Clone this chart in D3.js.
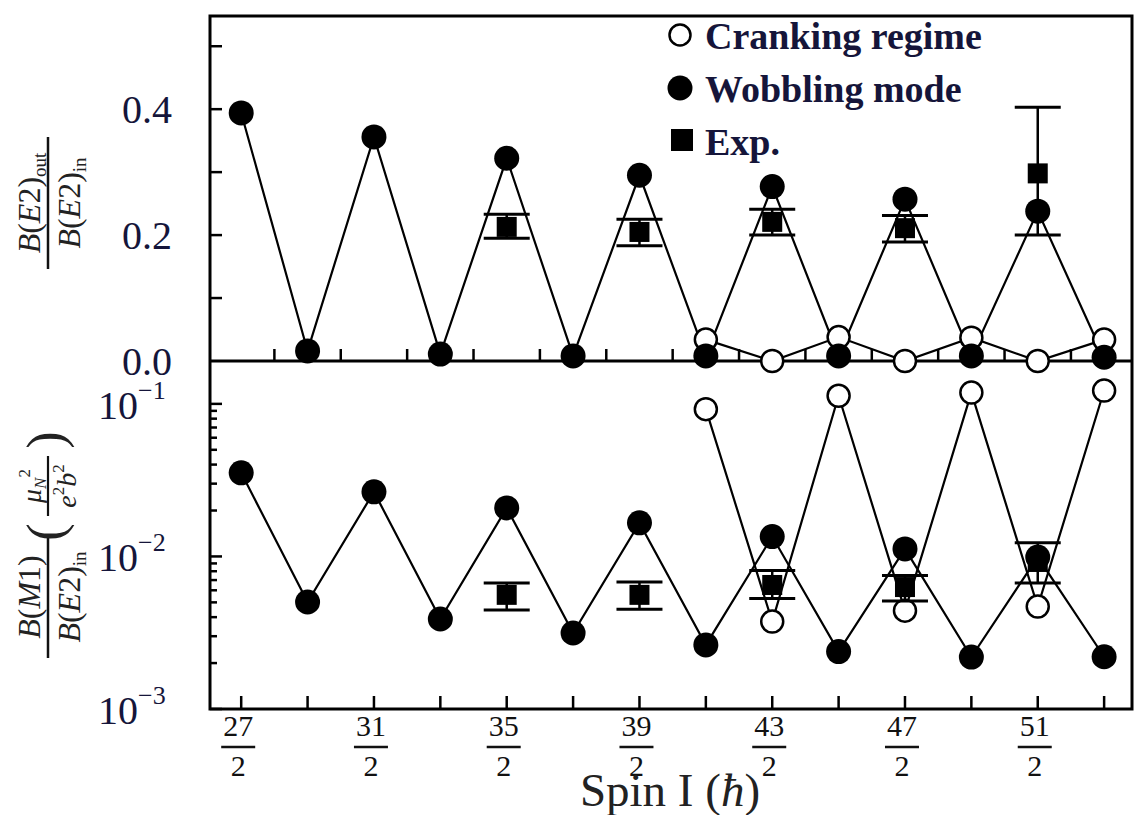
<!DOCTYPE html>
<html>
<head>
<meta charset="utf-8">
<script src="https://cdn.jsdelivr.net/npm/d3@7"></script>
<style>
	body { margin: 0; background: #fff; }
	svg text { font-family: "Liberation Serif", "DejaVu Serif", serif; }
</style>
</head>
<body>
<div id="chart"></div>
<script>
// spin values are stored as numerators of I/2
const spins        = [27, 29, 31, 33, 35, 37, 39, 41, 43, 45, 47, 49, 51, 53];
const wobbleRatio  = [0.394, 0.016, 0.356, 0.011, 0.322, 0.008, 0.295, 0.008, 0.277, 0.008, 0.257, 0.008, 0.238, 0.006];
const wobbleM1     = [0.0353, 0.00503, 0.0265, 0.00389, 0.0208, 0.00315, 0.0166, 0.00263, 0.0135, 0.00238, 0.0112, 0.00219, 0.0099, 0.0022];

const crankSpins   = [41, 43, 45, 47, 49, 51, 53];
const crankRatio   = [0.034, 0.0, 0.038, 0.0, 0.037, 0.0, 0.034];
const crankM1      = [0.0923, 0.00374, 0.113, 0.00441, 0.1186, 0.00469, 0.1223];

const expSpins     = [35, 39, 43, 47, 51];
const expRatio     = [0.213, 0.205, 0.221, 0.211, 0.298];
const expRatioLo   = [0.195, 0.183, 0.200, 0.189, 0.200];
const expRatioHi   = [0.233, 0.225, 0.241, 0.231, 0.403];
const expM1        = [0.0056, 0.0056, 0.0065, 0.0063, 0.0092];
const expM1Lo      = [0.00446, 0.0045, 0.0053, 0.0051, 0.0067];
const expM1Hi      = [0.0067, 0.0068, 0.0081, 0.0075, 0.0123];

const xLabelSpins  = [27, 31, 35, 39, 43, 47, 51];
const ratioTicks   = [0.0, 0.2, 0.4];
const ratioMinor   = [0.1, 0.2, 0.3, 0.4, 0.5];
const m1Ticks      = [1e-3, 1e-2, 1e-1];
const m1Exponents  = ['\u22123', '\u22122', '\u22121'];
const legendLabels = ['Cranking regime', 'Wobbling mode', 'Exp.'];

let width   = 1134,
	height  = 815,
	pLeft   = 210,
	pRight  = 1132,
	pTop    = 16,
	pMid    = 361,
	pBottom = 709,
	ink     = '#15153a';

let svg = d3.select('#chart')
	.append('svg')
	.attr('width', width)
	.attr('height', height);

let x = d3.scaleLinear()
	.domain([13.03, 26.92])
	.range([pLeft, pRight]);

let yTop = d3.scaleLinear()
	.domain([0, 0.548])
	.range([pMid, pTop]);

let yBot = d3.scaleLog()
	.domain([1e-3, 0.191])
	.range([pBottom, pMid]);

let xv = function(s) { return x(s / 2); };

// ---- ticks ----
let ticks = svg.append('g').attr('stroke', '#000').attr('stroke-width', 2.5);

ratioMinor.forEach(function(v) {
	ticks.append('line').attr('x1', pLeft).attr('x2', pLeft + 12).attr('y1', yTop(v)).attr('y2', yTop(v));
});

m1Ticks.forEach(function(v, i) {
	ticks.append('line').attr('x1', pLeft).attr('x2', pLeft + 12).attr('y1', yBot(v)).attr('y2', yBot(v));
	if (i < m1Ticks.length - 1) {
		for (let k = 2; k <= 9; k++) {
			ticks.append('line').attr('x1', pLeft).attr('x2', pLeft + 7)
				.attr('y1', yBot(v * k)).attr('y2', yBot(v * k));
		}
	}
});

spins.forEach(function(s) {
	ticks.append('line').attr('x1', xv(s)).attr('x2', xv(s)).attr('y1', pBottom).attr('y2', pBottom - 13);
});

d3.range(14, 27).forEach(function(s) {
	ticks.append('line').attr('x1', x(s)).attr('x2', x(s)).attr('y1', pMid).attr('y2', pMid - 12);
});

// ---- frame ----
svg.append('rect')
	.attr('x', pLeft).attr('y', pTop)
	.attr('width', pRight - pLeft).attr('height', pBottom - pTop)
	.attr('fill', 'none').attr('stroke', '#000').attr('stroke-width', 3);

svg.append('line')
	.attr('x1', pLeft).attr('x2', pRight).attr('y1', pMid).attr('y2', pMid)
	.attr('stroke', '#000').attr('stroke-width', 3);

// ---- series ----
function drawPanel(y, wob, crank, ev, lo, hi) {
	let line = d3.line()
		.x(function(d) { return xv(d[0]); })
		.y(function(d) { return y(d[1]); });

	let crankData = crankSpins.map(function(s, i) { return [s, crank[i]]; });
	let wobData   = spins.map(function(s, i) { return [s, wob[i]]; });

	svg.append('path').datum(crankData)
		.attr('fill', 'none').attr('stroke', '#000').attr('stroke-width', 2.2).attr('d', line);
	svg.append('path').datum(wobData)
		.attr('fill', 'none').attr('stroke', '#000').attr('stroke-width', 2.2).attr('d', line);

	svg.append('g').selectAll('circle').data(crankData).join('circle')
		.attr('cx', function(d) { return xv(d[0]); })
		.attr('cy', function(d) { return y(d[1]); })
		.attr('r', 11)
		.attr('fill', '#fff').attr('stroke', '#000').attr('stroke-width', 2.5);

	svg.append('g').selectAll('circle').data(wobData).join('circle')
		.attr('cx', function(d) { return xv(d[0]); })
		.attr('cy', function(d) { return y(d[1]); })
		.attr('r', 12.5)
		.attr('fill', '#000');

	let eg = svg.append('g').attr('stroke', '#000');
	expSpins.forEach(function(s, i) {
		let cx = xv(s);
		eg.append('line').attr('x1', cx).attr('x2', cx).attr('y1', y(lo[i])).attr('y2', y(hi[i])).attr('stroke-width', 2.5);
		eg.append('line').attr('x1', cx - 23).attr('x2', cx + 23).attr('y1', y(lo[i])).attr('y2', y(lo[i])).attr('stroke-width', 3);
		eg.append('line').attr('x1', cx - 23).attr('x2', cx + 23).attr('y1', y(hi[i])).attr('y2', y(hi[i])).attr('stroke-width', 3);
		eg.append('rect').attr('x', cx - 10).attr('y', y(ev[i]) - 10).attr('width', 20).attr('height', 20)
			.attr('fill', '#000').attr('stroke', 'none');
	});
}

drawPanel(yTop, wobbleRatio, crankRatio, expRatio, expRatioLo, expRatioHi);
drawPanel(yBot, wobbleM1, crankM1, expM1, expM1Lo, expM1Hi);

// ---- tick labels ----
svg.append('g').selectAll('text').data(ratioTicks).join('text')
	.attr('x', 172).attr('y', function(d) { return yTop(d); })
	.attr('dy', '0.35em')
	.attr('text-anchor', 'end')
	.attr('font-size', 40)
	.attr('fill', ink)
	.text(function(d) { return d.toFixed(1); });

m1Ticks.forEach(function(v, i) {
	let t = svg.append('text')
		.attr('x', 98).attr('y', yBot(v) + 15)
		.attr('font-size', 40)
		.attr('fill', ink);
	t.append('tspan').text('10');
	t.append('tspan').attr('font-size', 26).attr('dy', -20).text(m1Exponents[i]);
});

let xl = svg.append('g').attr('fill', '#111');
xLabelSpins.forEach(function(s) {
	let cx = xv(s) - 3;
	xl.append('text').attr('x', cx).attr('y', 736).attr('text-anchor', 'middle').attr('font-size', 30).text(s);
	xl.append('line').attr('x1', cx - 17).attr('x2', cx + 17).attr('y1', 747).attr('y2', 747)
		.attr('stroke', '#111').attr('stroke-width', 2.5);
	xl.append('text').attr('x', cx).attr('y', 776).attr('text-anchor', 'middle').attr('font-size', 30).text('2');
});

let sp = svg.append('text')
	.attr('x', 670).attr('y', 806)
	.attr('text-anchor', 'middle')
	.attr('font-size', 47)
	.attr('fill', '#222');
sp.append('tspan').text('Spin I (');
sp.append('tspan').attr('font-style', 'italic').text('\u0127');
sp.append('tspan').text(')');

// ---- y titles ----
function fracText(g, yy, size, parts) {
	let t = g.append('text').attr('x', 0).attr('y', yy).attr('text-anchor', 'middle')
		.attr('font-size', size).attr('fill', '#222');
	parts.forEach(function(p) {
		let ts = t.append('tspan').text(p.t);
		if (p.i) ts.attr('font-style', 'italic');
		if (p.s) ts.attr('font-size', p.s);
		if (p.dy) ts.attr('dy', p.dy);
	});
	return t;
}

let g1 = svg.append('g').attr('transform', 'translate(48,203) rotate(-90)');
g1.append('line').attr('x1', -66).attr('x2', 66).attr('y1', 0).attr('y2', 0).attr('stroke', '#111').attr('stroke-width', 2.5);
fracText(g1, -8, 32, [{t: 'B', i: 1}, {t: '('}, {t: 'E', i: 1}, {t: '2)'}, {t: 'out', s: 19, dy: 6}]);
fracText(g1, 32, 32, [{t: 'B', i: 1}, {t: '('}, {t: 'E', i: 1}, {t: '2)'}, {t: 'in', s: 19, dy: 6}]);

let g2 = svg.append('g').attr('transform', 'translate(48,597) rotate(-90)');
g2.append('line').attr('x1', -61).attr('x2', 61).attr('y1', 0).attr('y2', 0).attr('stroke', '#111').attr('stroke-width', 2.5);
fracText(g2, -8, 32, [{t: 'B', i: 1}, {t: '('}, {t: 'M', i: 1}, {t: '1)'}]);
fracText(g2, 32, 32, [{t: 'B', i: 1}, {t: '('}, {t: 'E', i: 1}, {t: '2)'}, {t: 'in', s: 19, dy: 6}]);

let g3 = svg.append('g').attr('transform', 'translate(48,486) rotate(-90)');
g3.append('line').attr('x1', -30).attr('x2', 30).attr('y1', 0).attr('y2', 0).attr('stroke', '#111').attr('stroke-width', 2.2);
g3.append('text').attr('x', -46).attr('y', 15).attr('text-anchor', 'middle').attr('font-size', 52).attr('fill', '#222').text('(');
g3.append('text').attr('x', 46).attr('y', 15).attr('text-anchor', 'middle').attr('font-size', 52).attr('fill', '#222').text(')');
fracText(g3, -7, 28, [{t: '\u03bc', i: 1}, {t: 'N', s: 17, dy: 5, i: 1}, {t: '2', s: 17, dy: -16}]);
fracText(g3, 28, 28, [{t: 'e', i: 1}, {t: '2', s: 17, dy: -12}, {t: 'b', i: 1, dy: 12}, {t: '2', s: 17, dy: -12}]);

// ---- legend ----
let lg = svg.append('g');
lg.append('circle').attr('cx', 680).attr('cy', 35).attr('r', 10.5)
	.attr('fill', '#fff').attr('stroke', '#000').attr('stroke-width', 2.5);
lg.append('circle').attr('cx', 680).attr('cy', 88).attr('r', 12.5).attr('fill', '#000');
lg.append('rect').attr('x', 671).attr('y', 129).attr('width', 22).attr('height', 22).attr('fill', '#000');

lg.selectAll('text').data(legendLabels).join('text')
	.attr('x', 705)
	.attr('y', function(d, i) { return 49 + i * 53; })
	.attr('font-size', 38)
	.attr('font-weight', 'bold')
	.attr('fill', ink)
	.text(function(d) { return d; });
</script>
</body>
</html>
